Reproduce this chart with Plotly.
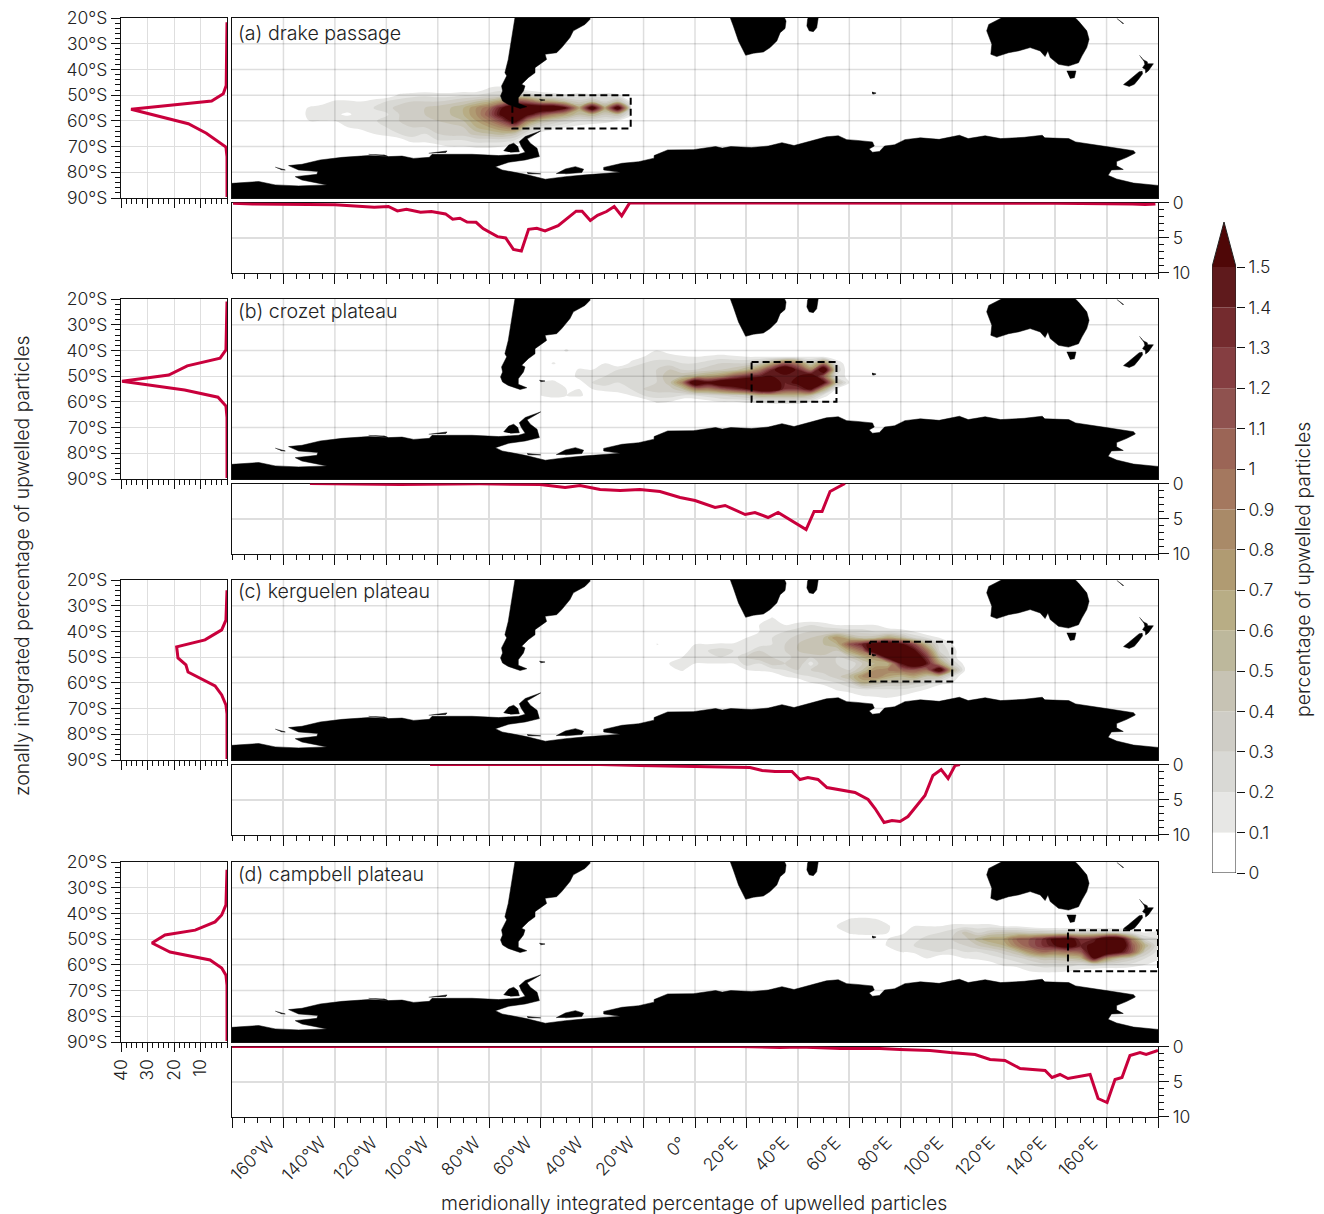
import plotly.graph_objects as go

W, H = 1324, 1214
FONT = "Inter"
WEIGHT = 300
TXT = "#222222"
RED = "#c9003c"

# ---------- tick values / labels ----------
lat_ticks = [-20, -30, -40, -50, -60, -70, -80, -90]
lat_labels = ["20°S", "30°S", "40°S", "50°S", "60°S", "70°S", "80°S", "90°S"]
lon_ticks = [-180, -160, -140, -120, -100, -80, -60, -40, -20, 0, 20, 40, 60, 80, 100, 120, 140, 160, 180]
lon_labels = ["", "160°W", "140°W", "120°W", "100°W", "80°W", "60°W", "40°W", "20°W", "0°",
              "20°E", "40°E", "60°E", "80°E", "100°E", "120°E", "140°E", "160°E", ""]
zonal_ticks = [40, 30, 20, 10]
strip_ticks = [0, 5, 10]
level_edges = [0, .1, .2, .3, .4, .5, .6, .7, .8, .9, 1, 1.1, 1.2, 1.3, 1.4, 1.5]
level_labels = ["0", "0.1", "0.2", "0.3", "0.4", "0.5", "0.6", "0.7", "0.8", "0.9", "1", "1.1", "1.2", "1.3", "1.4", "1.5"]
level_colors = ["#ffffff", "#e7e7e5", "#d9d9d5", "#cfcdc6", "#c7c3b4", "#bdb89c", "#b8ad85", "#b09b72",
                "#a98a68", "#a4785f", "#9b6556", "#8f524f", "#853e41", "#742b2e", "#5f1a1c", "#4f0707"]

panel_titles = ["(a) drake passage", "(b) crozet plateau", "(c) kerguelen plateau", "(d) campbell plateau"]

# ---------- dashed source regions: lon0, lon1, lat0, lat1 ----------
box_a = [-71, -25, -50, -63]
box_b = [22, 55, -44.5, -60]
box_c = [68, 100, -44, -59.5]
box_d = [145, 180, -46.5, -62.5]

# ---------- zonal profiles (left panels) ----------
zonal_lat_a = [-21.7, -40, -46.2, -49.5, -52.3, -55.5, -61.1, -64.8, -70.2, -74, -89.6]
zonal_val_a = [0, .1, .3, 1.4, 5.8, 36.2, 14.6, 7.8, .4, 0, 0]
zonal_lat_b = [-21, -39.8, -43, -46, -49.6, -52, -55.4, -58.2, -61.6, -66, -89.6]
zonal_val_b = [0, .4, 2.6, 15, 22, 39.6, 16, 3.4, .4, 0, 0]
zonal_lat_c = [-24, -35.6, -39.4, -43.3, -46, -50.3, -53, -55.8, -61.2, -64.7, -68.6, -72, -89.6]
zonal_val_c = [0, .4, 2, 8.3, 19, 18.5, 15.5, 14.7, 4.5, 2, .4, 0, 0]
zonal_lat_d = [-23, -36.7, -40.6, -43.3, -46.5, -48.4, -51.5, -55, -58.1, -61.2, -64, -68, -89.6]
zonal_val_d = [0, .4, 2, 4.5, 12, 23.4, 28.3, 21.5, 6.4, 2, .4, 0, 0]

# ---------- meridional profiles (strips) ----------
mer_lon_a = [-179.6, -172, -140, -124.7, -119.2, -115.7, -112.2, -106.7, -102.5, -97, -94.2, -91.4, -88.6, -85.1,
             -82.4, -76.8, -73.6, -70.6, -67.5, -64.7, -61.5, -58.3, -53.2, -46.2, -43.9, -40.7, -37.9, -34.4,
             -31.4, -28.5, -25.4, -20, 60, 100, 140, 170, 175, 179]
mer_val_a = [.1, .2, .33, .67, .57, 1.2, .96, 1.39, 1.29, 1.63, 2.4, 2.25, 2.78, 2.83,
             3.73, 4.88, 5.07, 6.7, 6.94, 3.83, 3.69, 4.07, 3.3, 1.24, 1.24, 2.58, 1.82, 1.29,
             .57, 1.91, .05, .05, .05, .1, .12, .2, .3, .2]
mer_lon_b = [-149.7, -114.7, -83.6, -60.2, -50.5, -44.7, -36.9, -29.1, -21.4, -13.6, -5.8, 0, 7.8, 11.7, 19.5,
             23.3, 28.4, 32.3, 43.2, 46.3, 49.4, 52.5, 58.3]
mer_val_b = [0, .14, .05, .14, .57, .3, .86, 1, .86, 1.14, 2, 2.43, 3.43, 3.14, 4.43,
             4.14, 4.86, 4.14, 6.57, 4, 4, 1.14, 0]
mer_lon_c = [-103, -36.9, -21.4, 1.9, 21.4, 26.1, 31.1, 37.7, 40.8, 43.9, 47.8, 51.3, 55.6, 62.2, 67.3, 70,
             73.5, 76.6, 79.7, 82.8, 89.4, 92.5, 95.7, 98.4, 101.1, 103]
mer_val_c = [0, 0, .14, .29, .43, .86, 1, 1, 2.14, 1.86, 2.14, 3.29, 3.57, 4, 5, 6.29,
             8.29, 8, 8.14, 7.43, 4.43, 1.57, .71, 2, .14, 0]
mer_lon_d = [-180, -36.9, 17.5, 33, 40.8, 56.4, 71.9, 79.7, 91.4, 99.2, 108.9, 114.7, 120.5, 126.4, 136.1, 138.8,
             141.9, 145, 153.6, 156.7, 160.2, 163.3, 166, 169.1, 173, 175.4, 180]
mer_val_d = [0, 0, 0, .14, .07, .29, .29, .43, .57, .86, 1.14, 1.86, 2, 3.14, 3.43, 4.43,
             4, 4.57, 4, 7.43, 8, 4.71, 4.43, 1.29, .86, 1.14, .57]

# ---------- upwelled-particle percentage grids (read per cell from the maps) ----------
grid_lon_a = [-155, -150, -145, -140, -135, -130, -125, -120, -115, -110, -105, -100, -95, -90, -85, -80, -75, -70,
              -65, -60, -55, -50, -45, -40, -35, -30, -25]
grid_lat_a = [-45, -47.5, -50, -52.5, -55, -57.5, -60, -62.5, -65, -67.5, -70, -72.5]
grid_z_a = [
    [0] * 27,
    [0, 0, 0, 0, 0, 0, 0, 0, 0, 0, 0, 0, 0, 0, 0, .12, .15, .1, 0, 0, 0, 0, 0, 0, 0, 0, 0],
    [0, 0, 0, 0, 0, 0, 0, .02, .12, .15, .18, .15, .15, .2, .2, .25, .3, .4, .35, .2, .15, .12, .15, .12, .15, .12, 0],
    [0, 0, .05, .12, .12, .1, .15, .2, .25, .3, .3, .3, .35, .4, .5, .6, .8, 1.2, 1.1, .8, .7, .5, .35, .5, .3, .5, .1],
    [0, .12, .15, .15, .15, .2, .2, .25, .35, .4, .4, .45, .5, .6, .8, 1, 1.5, 1.8, 1.9, 1.9, 1.9, 1.5, .7, 1.8, .7, 1.8, .3],
    [.05, .12, .15, .12, .08, .15, .12, .18, .3, .4, .4, .45, .5, .6, .8, 1.1, 1.6, 1.9, 1.6, 1.2, .9, .7, .5, .6, .4, .5, .15],
    [.1, .1, .1, .1, .18, .12, .18, .25, .3, .35, .35, .4, .45, .5, .7, .9, 1.2, 1.7, .9, .55, .4, .3, .2, .2, .15, .1, 0],
    [0, 0, 0, 0, .1, .15, .15, .2, .25, .3, .3, .35, .35, .4, .6, .7, .85, 1, .45, .25, .15, .1, .05, 0, 0, 0, 0],
    [0, 0, 0, 0, 0, 0, .1, .15, .2, .25, .2, .3, .35, .35, .45, .5, .55, .45, .2, .05, 0, 0, 0, 0, 0, 0, 0],
    [0, 0, 0, 0, 0, 0, 0, 0, .05, .15, .15, .2, .2, .2, .25, .25, .25, .2, .1, 0, 0, 0, 0, 0, 0, 0, 0],
    [0, 0, 0, 0, 0, 0, 0, 0, 0, 0, 0, .05, .1, .1, .12, .12, .1, .05, 0, 0, 0, 0, 0, 0, 0, 0, 0],
    [0] * 27,
]

grid_lon_b = [-60, -55, -50, -45, -40, -35, -30, -25, -20, -15, -10, -5, 0, 5, 10, 15, 20, 25, 30, 35, 40, 45, 50, 55, 60]
grid_lat_b = [-37.5, -40, -42.5, -45, -47.5, -50, -52.5, -55, -57.5, -60, -62.5]
grid_z_b = [
    [0] * 25,
    [0, 0, .12, 0, 0, 0, 0, 0, 0, .1, .05, 0, 0, 0, 0, 0, 0, 0, 0, 0, 0, 0, 0, 0, 0],
    [0, 0, 0, 0, 0, 0, 0, .05, .1, .15, .15, .12, .1, .12, .15, .12, .1, .1, .1, .1, .1, .1, .1, 0, 0],
    [0, .12, 0, 0, 0, .1, 0, .12, .2, .25, .25, .2, .2, .25, .3, .3, .3, .4, .7, 1.1, .9, .4, .9, .2, 0],
    [0, 0, 0, .12, .1, .15, .2, .25, .25, .3, .4, .3, .3, .35, .4, .45, .6, .9, 1.4, 1.9, 1.4, .9, 1.9, .3, 0],
    [0, 0, 0, .15, .2, .2, .25, .3, .3, .3, .5, .5, .6, .7, .8, 1.1, 1.3, 1.4, 1.5, 1.4, 1.5, 1.8, 1.1, .2, .05],
    [.1, .15, 0, .05, .2, .25, .2, .25, .25, .3, .45, .9, 1.9, 1.6, 1.9, 1.9, 2, 2.1, 1.7, 1.4, 1.6, 2.1, 1.6, .5, .1],
    [.15, .2, .1, .1, .1, .15, .15, .2, .3, .35, .35, .5, .9, .9, 1.1, 1.3, 1.5, 1.9, 1.9, 1.3, 1.3, 1.6, .7, .1, 0],
    [.1, .15, .1, .12, .05, 0, .05, .1, .2, .25, .25, .2, .2, .25, .3, .35, .4, .6, .6, .6, .6, .5, .15, 0, 0],
    [0, 0, 0, 0, 0, 0, 0, 0, 0, .12, .1, 0, 0, .05, .1, .1, .12, .12, .15, .15, .15, .1, 0, 0, 0],
    [0] * 25,
]

grid_lon_c = [-15, -10, -5, 0, 5, 10, 15, 20, 25, 30, 35, 40, 45, 50, 55, 60, 65, 70, 75, 80, 85, 90, 95, 100, 105]
grid_lat_c = [-32.5, -35, -37.5, -40, -42.5, -45, -47.5, -50, -52.5, -55, -57.5, -60, -62.5, -65, -67.5]
grid_z_c = [
    [0] * 25,
    [0, 0, 0, 0, 0, 0, 0, 0, 0, .12, 0, 0, 0, 0, 0, 0, 0, 0, 0, 0, 0, 0, 0, 0, 0],
    [0, 0, 0, 0, 0, 0, 0, 0, .1, .15, .1, .15, .2, .15, .1, .1, .1, .1, 0, 0, 0, 0, 0, 0, 0],
    [0, 0, 0, 0, 0, 0, 0, 0, .1, .2, .2, .25, .3, .3, .3, .25, .25, .2, .2, .15, .1, 0, 0, 0, 0],
    [0, 0, 0, 0, 0, 0, 0, .1, .2, .2, .25, .35, .4, .5, .8, .6, .45, .5, .7, .55, .3, .2, .1, 0, 0],
    [.12, 0, 0, .1, .1, .12, .12, .15, .15, .2, .3, .4, .45, .5, .6, 1.1, 1.4, 1.7, 1.9, 1.6, 1.2, .6, .25, .1, 0],
    [0, 0, .05, .15, .2, .25, .2, .15, .3, .25, .3, .4, .5, .5, .4, .7, 1, 1.9, 2.1, 2, 1.6, 1, .3, .15, 0],
    [0, 0, .1, .18, .15, .2, .15, .3, .4, .3, .25, .35, .3, .35, .3, .4, .6, .8, 1.7, 2, 1.9, 1.3, .5, .15, 0],
    [0, .1, .15, .1, .1, .1, .1, .25, .2, .35, .3, .4, .15, .4, .3, .2, .4, .6, .6, 1.5, 1.9, 1.5, .8, .3, .05],
    [0, .05, .12, 0, .05, .05, .1, .1, .12, .15, .2, .3, .3, .35, .4, .3, .5, .8, .9, 1, 1.1, 1, 1.8, .6, .1],
    [0, 0, 0, 0, 0, 0, 0, 0, 0, 0, .1, .15, .2, .25, .35, .5, .8, .9, .7, .6, .7, .5, .5, .2, 0],
    [0, 0, 0, 0, 0, 0, 0, 0, 0, 0, 0, 0, .1, .15, .2, .3, .6, .5, .4, .4, .35, .25, .15, .1, 0],
    [0, 0, 0, 0, 0, 0, 0, 0, 0, 0, 0, 0, 0, 0, .12, .15, .2, .2, .2, .2, .15, .1, 0, 0, 0],
    [0, 0, 0, 0, 0, 0, 0, 0, 0, 0, 0, 0, 0, 0, 0, .05, .1, .12, .15, .1, .05, 0, 0, 0, 0],
    [0] * 25,
]

grid_lon_d = [55, 60, 65, 70, 75, 80, 85, 90, 95, 100, 105, 110, 115, 120, 125, 130, 135, 140, 145, 150, 155, 160, 165, 170, 175, 180]
grid_lat_d = [-40, -42.5, -45, -47.5, -50, -52.5, -55, -57.5, -60, -62.5, -65]
grid_z_d = [
    [0] * 26,
    [0, .12, .15, .12, .05, 0, 0, 0, 0, 0, 0, 0, 0, 0, 0, 0, 0, 0, 0, 0, 0, 0, 0, 0, 0, 0],
    [.1, .15, .2, .15, .12, 0, .1, .1, .1, .15, .15, .15, .15, .1, .1, .05, 0, 0, 0, 0, 0, 0, 0, 0, 0, 0],
    [0, .12, .15, .15, .1, .05, .2, .15, .2, .25, .45, .3, .4, .45, .45, .4, .4, .35, .35, .35, .35, .35, .3, .2, .1, .15],
    [0, 0, 0, 0, .1, .2, .15, .25, .3, .3, .35, .55, .7, .7, 1, 1.1, 1.3, 1.6, 1.7, 1.3, 1.4, 1.9, 1.8, .9, .3, .2],
    [0, 0, 0, 0, .12, .2, .2, .3, .25, .25, .3, .4, .5, .6, .9, 1.1, 1.3, 1.5, 1.7, 1.4, 1.6, 2.1, 2, 1.1, .6, .2],
    [0, 0, 0, 0, 0, .1, .12, .15, .2, .15, .2, .2, .25, .35, .5, .8, 1, .9, 1, 1.1, 1.8, 1.9, 1.6, 1.1, .4, .15],
    [0, 0, 0, 0, 0, 0, 0, .1, 0, .05, .1, .12, .15, .2, .25, .35, .45, .45, .5, .6, 1.5, .8, .5, .35, .2, .12],
    [0, 0, 0, 0, 0, 0, 0, 0, 0, 0, 0, 0, .05, .12, .15, .2, .25, .25, .25, .2, .25, .2, .2, .15, .1, .05],
    [0, 0, 0, 0, 0, 0, 0, 0, 0, 0, 0, 0, 0, 0, 0, .1, .12, .12, .1, .05, 0, 0, 0, 0, 0, 0],
    [0] * 26,
]

# ---------- land outlines (lon, lat) ----------
antarctica_lon = [-180, -174.8, -169.6, -163.2, -154.1, -143.1, -152.8, -155.4, -147, -146.6, -154.1, -158, -152.8, -145.7,
                  -137.2, -126.9, -119.1, -113.9, -109.4, -103.3, -102.2, -95.8, -86.7, -76.3, -68.6, -66, -67.5,
                  -68.3, -66, -60, -65.3, -64, -61.4, -60.5, -66, -72.4, -77.6, -75, -66, -58.2, -50.4, -42.6, -29,
                  -35.5, -35.5, -28.4, -24.5, -21.9, -15.9, -15.9, -10.6, -6, -0.7, 8, 10.6, 13.9, 21.9, 28.5, 33.8, 38.5,
                  45.8, 51.1, 55.7, 59, 63, 69, 69.7, 67.7, 69, 71.7, 73.7, 77.6, 81.6, 87.6, 94.9, 102.8, 106.2, 112.8,
                  118.8, 128, 135, 136, 145.3, 148, 161.2, 170.5, 171.2, 167.9, 163.9, 163.9, 166.5, 161.9, 160.6, 163.9,
                  170.5, 180, 180, -180]
antarctica_lat = [-84.3, -83.9, -83.6, -84.9, -85.3, -84.9, -83, -81.7, -80.8, -79.7, -79.1, -77.4, -76.9, -75.2,
                  -74.2, -73.5, -73.9, -73.7, -74.6, -74.2, -73, -73, -73, -73.5, -73, -72.2, -70,
                  -68.1, -66.1, -63.9, -67, -68.7, -70.7, -73.9, -75.2, -76.1, -77.8, -79.1, -80.8, -82.7, -81.7, -81, -80,
                  -79.1, -78.1, -76.5, -76.1, -75.9, -74.5, -73.5, -71.3, -71.2, -71.2, -70, -70.6, -70, -70.4, -69.8, -68.5, -69.6,
                  -67.6, -66.2, -65.8, -67.3, -67.6, -68.2, -69.8, -70.9, -72.2, -71.9, -69.8, -69.3, -67.3, -66.6, -67.2, -65.6, -66.9, -65.8,
                  -66.9, -66.4, -65.6, -66.6, -66.9, -68.2, -70.2, -71.6, -72.5, -74.2, -75.8, -77.5, -78.9, -79.1, -81.2, -82.6,
                  -84.2, -85.1, -90, -90]
samerica_lon = [-70, -70.9, -71.9, -72.6, -73.9, -73.2, -75.2, -74.8, -75.6, -74.8, -72.6, -70.6, -68, -65.4, -68.7, -68.7,
                -66.7, -66.1, -67.4, -64.8, -62.2, -62.2, -57.7, -58.3, -53.8, -51.8, -48.6, -47.3, -42.8, -40.8, -40.8, -70]
samerica_lat = [-19.9, -25.7, -32.2, -36.1, -41.3, -42.5, -46.4, -48.4, -50.3, -52.3, -53.6, -54.2, -55.2, -54.5, -53.2, -51,
                -48.4, -46.4, -45.8, -43.2, -41.3, -39.3, -36.1, -34.1, -33.5, -31.5, -27.6, -25, -22.5, -20.5, -18, -18]
africa_lon = [13, 13.6, 14.9, 16.9, 18.8, 19.7, 22.7, 26.6, 29.2, 31.8, 33.1, 35, 35.4, 34.8, 35.5]
africa_lat = [-18, -19.9, -23.1, -28.9, -32.8, -34.5, -33.7, -33.2, -31.5, -28.9, -25.7, -24.1, -21.2, -19.9, -18]
madagascar_lon = [43.8, 43.5, 44.4, 46, 47.3, 48, 48.2, 44]
madagascar_lat = [-20.3, -23.1, -25, -25.3, -23.8, -20.3, -18, -18]
australia_lon = [119.3, 114.2, 113.4, 114.7, 115.4, 115, 117.3, 121.9, 125.7, 130.3, 134.2, 136.1, 137.2, 138.1, 141.3, 145.2,
                 149.1, 150.4, 152.3, 153.2, 152.3, 149.1, 147.8, 147, 120]
australia_lat = [-19.9, -22.5, -25, -28.3, -30.2, -34.1, -35, -33.5, -32.8, -31.5, -32.8, -35, -32.8, -35.4, -38, -38.7,
                 -37.4, -34.8, -31.5, -28.3, -25, -21.2, -19.9, -18, -18]
tasmania_lon = [144.5, 148.1, 147.5, 145.8]
tasmania_lat = [-40.6, -40.6, -43.2, -43.5]
nz_north_lon = [172.8, 174.2, 175.8, 176, 178.2, 177.2, 176.3, 175.2, 175.1, 174, 174.9, 174.6, 173.4]
nz_north_lat = [-34.5, -36.2, -37, -37.8, -37.8, -39.2, -40.5, -41.4, -40, -39.3, -38, -36.9, -35.2]
nz_south_lon = [173.8, 174, 172.6, 170.8, 168.8, 166.6, 168.5, 171, 172.8]
nz_south_lat = [-40.6, -41.7, -43.6, -45.8, -46.6, -45.9, -44.4, -42.5, -40.8]
caledonia_lon = [164, 166.6, 166.4]
caledonia_lat = [-20.2, -22.1, -22.3]
kerguelen_lon = [68.8, 70.4, 69.5, 68.8]
kerguelen_lat = [-48.8, -49.2, -49.6, -49.4]
falkland_lon = [-60.5, -58.3, -60]
falkland_lat = [-51.6, -51.9, -52.2]
berkner_lon = [-54, -50.4, -46.5, -43.3, -44, -50.4]
berkner_lat = [-80.6, -78.7, -77.8, -78.8, -80.1, -80.6]
ronne_spot_lon = [-65.3, -60, -65]
ronne_spot_lat = [-80.1, -80.6, -80.6]
alexander_lon = [-74.4, -72.4, -70.5, -68.9, -68.3, -71.8]
alexander_lat = [-71.7, -69.4, -68.7, -70, -72, -72.2]
thurston_lon = [-103.5, -96.4, -97]
thurston_lat = [-72.6, -71.7, -72.4]
amundsen_lon = [-126.9, -119.5, -121]
amundsen_lat = [-73, -73.8, -73.2]
ross_spot_lon = [-163.2, -159.3, -161]
ross_spot_lat = [-78, -79.1, -79]

land_lons = [antarctica_lon, samerica_lon, africa_lon, madagascar_lon, australia_lon, tasmania_lon, nz_north_lon,
             nz_south_lon, caledonia_lon, kerguelen_lon, falkland_lon, berkner_lon, ronne_spot_lon, alexander_lon,
             thurston_lon, amundsen_lon, ross_spot_lon]
land_lats = [antarctica_lat, samerica_lat, africa_lat, madagascar_lat, australia_lat, tasmania_lat, nz_north_lat,
             nz_south_lat, caledonia_lat, kerguelen_lat, falkland_lat, berkner_lat, ronne_spot_lat, alexander_lat,
             thurston_lat, amundsen_lat, ross_spot_lat]

# ---------- layout geometry in pixels ----------
MAP_X = (232, 1158)
ZON_X = (121, 227)
row_tops = [18, 299, 580, 862]
title_y = [33, 311, 591, 874]


def px_x(a, b):
    return [a / W, b / W]


def px_y(top, bot):
    return [1 - bot / H, 1 - top / H]


grids = [(grid_lon_a, grid_lat_a, grid_z_a), (grid_lon_b, grid_lat_b, grid_z_b),
         (grid_lon_c, grid_lat_c, grid_z_c), (grid_lon_d, grid_lat_d, grid_z_d)]
boxes = [box_a, box_b, box_c, box_d]
zonals = [(zonal_lat_a, zonal_val_a), (zonal_lat_b, zonal_val_b), (zonal_lat_c, zonal_val_c), (zonal_lat_d, zonal_val_d)]
mers = [(mer_lon_a, mer_val_a), (mer_lon_b, mer_val_b), (mer_lon_c, mer_val_c), (mer_lon_d, mer_val_d)]

colorscale = [[k / 15, c] for k, c in enumerate(level_colors)]
tickfont = dict(family=FONT, size=17.5, color=TXT, weight=WEIGHT)
GRID = "rgba(0,0,0,0.13)"
LINE = "#111"
TW = 1.4
fig = go.Figure()
layout = {}
annotations = []
grid_x, grid_y = [], []
for v in lon_ticks[1:-1]:
    grid_x += [v, v, None]
    grid_y += [-90, -20, None]
for v in lat_ticks[1:-1]:
    grid_x += [-180, 180, None]
    grid_y += [v, v, None]


def minor(step, start):
    return dict(ticks="outside", ticklen=5, tickcolor=LINE, tickwidth=1.2, dtick=step, tick0=start, showgrid=False)


n = 0
for r in range(4):
    top = row_tops[r]
    last = r == 3
    # map
    n += 1
    m = n
    layout[f"xaxis{m}"] = dict(domain=px_x(*MAP_X), range=[-180, 180], anchor=f"y{m}", showgrid=False, zeroline=False,
                               showticklabels=False, ticks="", showline=True, mirror=True, linecolor=LINE, linewidth=1.3)
    layout[f"yaxis{m}"] = dict(domain=px_y(top, top + 180), range=[-90, -20], anchor=f"x{m}", showgrid=False, zeroline=False,
                               showticklabels=False, ticks="", showline=True, mirror=True, linecolor=LINE, linewidth=1.3)
    glon, glat, gz = grids[r]
    assert len(gz) == len(glat) and all(len(row) == len(glon) for row in gz)
    fig.add_trace(go.Contour(x=glon, y=glat, z=gz, xaxis=f"x{m}", yaxis=f"y{m}", autocontour=False, showscale=False,
                             contours=dict(start=.1, end=1.5, size=.1, coloring="fill", showlines=False),
                             line=dict(width=0), colorscale=colorscale, hoverinfo="skip"))
    fig.add_trace(go.Scatter(x=grid_x, y=grid_y, xaxis=f"x{m}", yaxis=f"y{m}", mode="lines",
                             line=dict(color=GRID, width=1.5), hoverinfo="skip", showlegend=False))
    for lo, la in zip(land_lons, land_lats):
        fig.add_trace(go.Scatter(x=lo, y=la, xaxis=f"x{m}", yaxis=f"y{m}", mode="lines", fill="toself", fillcolor="#000",
                                 line=dict(color="#000", width=.5), hoverinfo="skip", showlegend=False))
    bx = boxes[r]
    fig.add_trace(go.Scatter(x=[bx[0], bx[1], bx[1], bx[0], bx[0]], y=[bx[2], bx[2], bx[3], bx[3], bx[2]],
                             xaxis=f"x{m}", yaxis=f"y{m}", mode="lines",
                             line=dict(color="#000", width=2, dash="7px,4px"), hoverinfo="skip", showlegend=False))
    annotations.append(dict(text=panel_titles[r], xref="paper", yref="paper", x=236 / W, y=1 - title_y[r] / H,
                            xanchor="left", yanchor="middle", showarrow=False,
                            font=dict(family=FONT, size=19.6, color=TXT, weight=WEIGHT)))
    # zonal
    n += 1
    z = n
    layout[f"xaxis{z}"] = dict(domain=px_x(*ZON_X), range=[40, 0], anchor=f"y{z}", side="bottom", showline=True, mirror=True,
                               linecolor=LINE, linewidth=1.3, zeroline=False, showgrid=True, gridcolor="#dedede", gridwidth=1,
                               ticks="outside", ticklen=9, tickcolor=LINE, tickwidth=TW, tickmode="array", tickvals=zonal_ticks,
                               ticktext=[str(v) for v in zonal_ticks], showticklabels=last, tickangle=-90, tickfont=tickfont,
                               layer="below traces", minor=minor(2, 0))
    layout[f"yaxis{z}"] = dict(domain=px_y(top, top + 180), range=[-90, -20], anchor=f"x{z}", showline=True, mirror=True,
                               linecolor=LINE, linewidth=1.3, zeroline=False, showgrid=True, gridcolor="#dedede", gridwidth=1,
                               ticks="outside", ticklen=9, tickcolor=LINE, tickwidth=TW, tickmode="array", tickvals=lat_ticks,
                               ticktext=lat_labels, tickfont=tickfont, layer="below traces", minor=minor(2, -20))
    zl, zv = zonals[r]
    fig.add_trace(go.Scatter(x=zv, y=zl, xaxis=f"x{z}", yaxis=f"y{z}", mode="lines", line=dict(color=RED, width=3),
                             hoverinfo="skip", showlegend=False))
    # meridional
    n += 1
    s = n
    layout[f"xaxis{s}"] = dict(domain=px_x(*MAP_X), range=[-180, 180], anchor=f"y{s}", side="bottom", showline=True, mirror=True,
                               linecolor=LINE, linewidth=1.3, zeroline=False, showgrid=True, gridcolor="#dedede", gridwidth=1.5,
                               ticks="outside", ticklen=10, tickcolor=LINE, tickwidth=TW, tickmode="array", tickvals=lon_ticks,
                               ticktext=lon_labels, showticklabels=last, tickangle=-45, tickfont=tickfont, layer="below traces",
                               ticklabelshift=-14, ticklabelstandoff=-2, minor=minor(5, -180))
    layout[f"yaxis{s}"] = dict(domain=px_y(top + 184.5, top + 254.5), range=[10, 0], anchor=f"x{s}", side="right", showline=True,
                               mirror=True, linecolor=LINE, linewidth=1.3, zeroline=False, showgrid=True, gridcolor="#dedede",
                               gridwidth=1.5, ticks="outside", ticklen=10, tickcolor=LINE, tickwidth=TW, tickmode="array",
                               tickvals=strip_ticks, ticktext=[str(v) for v in strip_ticks], tickfont=tickfont, layer="below traces",
                               minor=minor(1, 0))
    ml, mv = mers[r]
    fig.add_trace(go.Scatter(x=ml, y=mv, xaxis=f"x{s}", yaxis=f"y{s}", mode="lines", line=dict(color=RED, width=3),
                             hoverinfo="skip", showlegend=False))

# colour bar built from its own axis
n += 1
c = n
apex = 1.5 + 45 / 404
layout[f"xaxis{c}"] = dict(domain=px_x(1212, 1236), range=[-.5, .5], anchor=f"y{c}", visible=False)
layout[f"yaxis{c}"] = dict(domain=px_y(222, 873), range=[0, apex], anchor=f"x{c}", side="right", showline=False, showgrid=False,
                           zeroline=False, ticks="outside", ticklen=8, tickcolor=LINE, tickwidth=TW, tickmode="array", tickvals=level_edges,
                           ticktext=level_labels, tickfont=tickfont)
fig.add_trace(go.Bar(x=[0] * 15, y=[.1] * 15, base=level_edges[:-1], width=1, marker=dict(color=level_colors[:15], line=dict(width=0)),
                     xaxis=f"x{c}", yaxis=f"y{c}", hoverinfo="skip", showlegend=False))
fig.add_trace(go.Scatter(x=[-.5, 0, .5, -.5], y=[1.5, apex, 1.5, 1.5], fill="toself", fillcolor=level_colors[15], mode="none",
                         xaxis=f"x{c}", yaxis=f"y{c}", hoverinfo="skip", showlegend=False))
fig.add_trace(go.Scatter(x=[-.5, -.5, 0, .5, .5, -.5], y=[0, 1.5, apex, 1.5, 0, 0], mode="lines", line=dict(color="#222", width=1),
                         xaxis=f"x{c}", yaxis=f"y{c}", hoverinfo="skip", showlegend=False))

title_font = dict(family=FONT, size=19.4, color=TXT, weight=WEIGHT)
annotations += [
    dict(text="zonally integrated percentage of upwelled particles", xref="paper", yref="paper", x=22 / W, y=1 - 566 / H,
         textangle=-90, showarrow=False, font=title_font, xanchor="center", yanchor="middle"),
    dict(text="meridionally integrated percentage of upwelled particles", xref="paper", yref="paper", x=694 / W, y=1 - 1203 / H,
         showarrow=False, font=title_font, xanchor="center", yanchor="middle"),
    dict(text="percentage of upwelled particles", xref="paper", yref="paper", x=1303 / W, y=1 - 570 / H,
         textangle=-90, showarrow=False, font=title_font, xanchor="center", yanchor="middle"),
]

fig.update_layout(template="none", width=W, height=H, margin=dict(l=0, r=0, t=0, b=0), paper_bgcolor="white", plot_bgcolor="white",
                  showlegend=False, annotations=annotations, barmode="overlay", font=dict(family=FONT, color=TXT), **layout)
fig.write_html("out.html", config={"displayModeBar": False}, post_script="document.body.style.margin='0';")
